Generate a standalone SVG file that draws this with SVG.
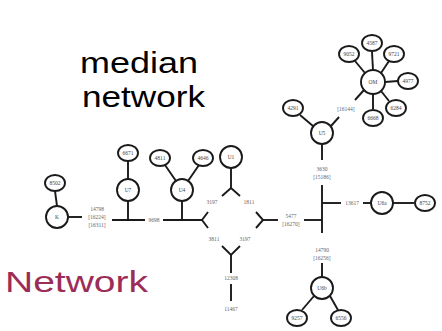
<svg xmlns="http://www.w3.org/2000/svg" width="442" height="331" viewBox="0 0 442 331">
  <style>
    .ln { stroke: #1a1a1a; stroke-width: 1.9; fill: none; }
    .nd { stroke: #1a1a1a; stroke-width: 1.9; fill: #ffffff; }
    .lb { font-family: "Liberation Serif", serif; font-size: 5.5px; fill: #666; text-anchor: middle; }
    .nl { font-family: "Liberation Serif", serif; font-size: 5.5px; fill: #444; text-anchor: middle; }
    .title { font-family: "Liberation Sans", Arial, sans-serif; font-size: 29px; fill: #000; }
  </style>
  <rect width="442" height="331" fill="#ffffff"/>

  <text class="title" x="80" y="73" textLength="118" lengthAdjust="spacingAndGlyphs">median</text>
  <text class="title" x="82" y="107" textLength="123" lengthAdjust="spacingAndGlyphs">network</text>
  <text class="title" x="5" y="292" textLength="143" lengthAdjust="spacingAndGlyphs" style="fill:#9b2d57">Network</text>

  <g id="connectors">
    <line class="ln" x1="55" y1="191" x2="57" y2="206"/>
    <line class="ln" x1="68" y1="217" x2="82" y2="217"/>
    <line class="ln" x1="112" y1="220" x2="145" y2="220"/>
    <line class="ln" x1="128" y1="161" x2="128" y2="179"/>
    <line class="ln" x1="128" y1="201" x2="128" y2="220"/>
    <line class="ln" x1="163" y1="220" x2="202" y2="220"/>
    <line class="ln" x1="182" y1="201" x2="182" y2="220"/>
    <line class="ln" x1="165" y1="165" x2="176" y2="181"/>
    <line class="ln" x1="199" y1="165" x2="188" y2="181"/>
    <!-- diamond -->
    <polyline class="ln" points="208,212 202,220 208,228"/>
    <polyline class="ln" points="222,196 231,188 240,196"/>
    <polyline class="ln" points="256,212 263,220 256,228"/>
    <polyline class="ln" points="222,246 231,255 240,246"/>
    <line class="ln" x1="231" y1="168" x2="231" y2="188"/>
    <line class="ln" x1="231" y1="255" x2="231" y2="273"/>
    <line class="ln" x1="231" y1="284" x2="231" y2="301"/>
    <line class="ln" x1="263" y1="220" x2="278" y2="220"/>
    <line class="ln" x1="304" y1="220" x2="322" y2="220"/>
    <!-- right trunk -->
    <line class="ln" x1="322" y1="185" x2="322" y2="233"/>
    <line class="ln" x1="322" y1="203" x2="341" y2="203"/>
    <line class="ln" x1="363" y1="203" x2="371" y2="203"/>
    <line class="ln" x1="393" y1="203" x2="414" y2="203"/>
    <line class="ln" x1="322" y1="263" x2="322" y2="277"/>
    <line class="ln" x1="314" y1="296" x2="302" y2="310"/>
    <line class="ln" x1="330" y1="296" x2="338" y2="310"/>
    <line class="ln" x1="322" y1="144" x2="322" y2="160"/>
    <line class="ln" x1="300" y1="115" x2="313" y2="126"/>
    <line class="ln" x1="331" y1="126" x2="339" y2="117"/>
    <line class="ln" x1="355" y1="100" x2="364" y2="90"/>
    <!-- star spokes -->
    <line class="ln" x1="355" y1="61" x2="365" y2="73"/>
    <line class="ln" x1="372" y1="52" x2="373" y2="70"/>
    <line class="ln" x1="389" y1="61" x2="381" y2="73"/>
    <line class="ln" x1="385" y1="82" x2="398" y2="81"/>
    <line class="ln" x1="389" y1="101" x2="381" y2="91"/>
    <line class="ln" x1="373" y1="94" x2="373" y2="109"/>
  </g>

  <g id="edge-labels">
    <text class="lb" x="97" y="211">14798</text>
    <text class="lb" x="97" y="219">[16224]</text>
    <text class="lb" x="97" y="227">[16311]</text>
    <text class="lb" x="154" y="222">9698</text>
    <text class="lb" x="212" y="204">3197</text>
    <text class="lb" x="249" y="204">1811</text>
    <text class="lb" x="214" y="241">3811</text>
    <text class="lb" x="245" y="241">3197</text>
    <text class="lb" x="231" y="280">12308</text>
    <text class="lb" x="231" y="311">11467</text>
    <text class="lb" x="291" y="218">5477</text>
    <text class="lb" x="291" y="226">[16270]</text>
    <text class="lb" x="322" y="171">3630</text>
    <text class="lb" x="322" y="179">[15186]</text>
    <text class="lb" x="352" y="205">13617</text>
    <text class="lb" x="322" y="252">14790</text>
    <text class="lb" x="322" y="260">[16256]</text>
    <text class="lb" x="346" y="111">[16144]</text>
  </g>

  <g id="n-K"><circle class="nd" cx="57" cy="217" r="11"/><text class="nl" x="57" y="219">K</text></g>
  <g id="n-8502"><ellipse class="nd" cx="55" cy="183" rx="10" ry="8"/><text class="nl" x="55" y="185">8502</text></g>
  <g id="n-U7"><circle class="nd" cx="128" cy="190" r="11"/><text class="nl" x="128" y="192">U7</text></g>
  <g id="n-6671"><ellipse class="nd" cx="128" cy="153" rx="10" ry="8"/><text class="nl" x="128" y="155">6671</text></g>
  <g id="n-U4"><circle class="nd" cx="182" cy="190" r="11"/><text class="nl" x="182" y="192">U4</text></g>
  <g id="n-4811"><ellipse class="nd" cx="160" cy="158" rx="10" ry="8"/><text class="nl" x="160" y="160">4811</text></g>
  <g id="n-4646"><ellipse class="nd" cx="203" cy="158" rx="10" ry="8"/><text class="nl" x="203" y="160">4646</text></g>
  <g id="n-U1"><circle class="nd" cx="231" cy="157" r="11"/><text class="nl" x="231" y="159">U1</text></g>
  <g id="n-U5"><circle class="nd" cx="322" cy="133" r="11"/><text class="nl" x="322" y="135">U5</text></g>
  <g id="n-4291"><ellipse class="nd" cx="293" cy="108" rx="10" ry="8"/><text class="nl" x="293" y="110">4291</text></g>
  <g id="n-OM"><circle class="nd" cx="373" cy="82" r="12"/><text class="nl" x="373" y="84">OM</text></g>
  <g id="n-9052"><ellipse class="nd" cx="349" cy="54" rx="10" ry="8"/><text class="nl" x="349" y="56">9052</text></g>
  <g id="n-4587"><ellipse class="nd" cx="372" cy="43" rx="10" ry="8"/><text class="nl" x="372" y="45">4587</text></g>
  <g id="n-9721"><ellipse class="nd" cx="394" cy="54" rx="10" ry="8"/><text class="nl" x="394" y="56">9721</text></g>
  <g id="n-4977"><ellipse class="nd" cx="408" cy="81" rx="10" ry="8"/><text class="nl" x="408" y="83">4977</text></g>
  <g id="n-6284"><ellipse class="nd" cx="396" cy="108" rx="10" ry="8"/><text class="nl" x="396" y="110">6284</text></g>
  <g id="n-6668"><ellipse class="nd" cx="373" cy="118" rx="10" ry="8"/><text class="nl" x="373" y="120">6668</text></g>
  <g id="n-U6a"><circle class="nd" cx="382" cy="203" r="11"/><text class="nl" x="382" y="205">U6a</text></g>
  <g id="n-8752"><ellipse class="nd" cx="425" cy="203" rx="10" ry="8"/><text class="nl" x="425" y="205">8752</text></g>
  <g id="n-U6b"><circle class="nd" cx="322" cy="288" r="11"/><text class="nl" x="322" y="290">U6b</text></g>
  <g id="n-9257"><ellipse class="nd" cx="297" cy="318" rx="10" ry="8"/><text class="nl" x="297" y="320">9257</text></g>
  <g id="n-6556"><ellipse class="nd" cx="341" cy="318" rx="10" ry="8"/><text class="nl" x="341" y="320">6556</text></g>
</svg>
